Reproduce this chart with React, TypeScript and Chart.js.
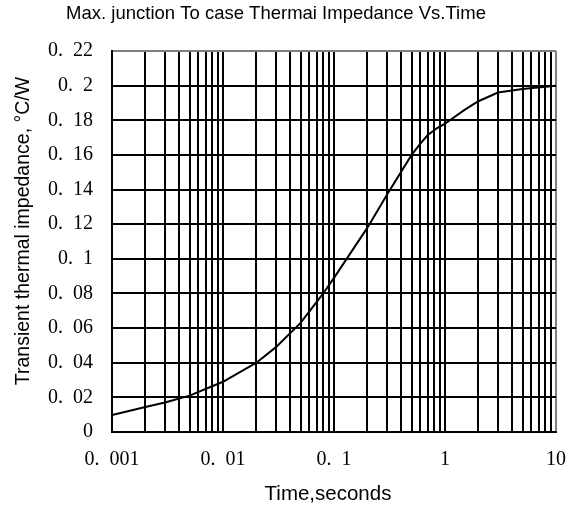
import React, { useEffect, useRef } from "react";
import { Chart, registerables } from "chart.js";

Chart.register(...registerables);

const TITLE = "Max. junction To case Thermai Impedance Vs.Time";
const X_TITLE = "Time,seconds";
const Y_TITLE = "Transient thermal impedance, °C/W";

// curve: time (s) vs transient thermal impedance (°C/W)
const times = [0.001, 0.002, 0.003, 0.005, 0.01, 0.02, 0.03, 0.05, 0.08, 0.1, 0.2, 0.3, 0.5, 0.6, 0.7, 0.85, 1, 1.5, 2, 3, 5, 10];
const impedance = [0.0098, 0.0144, 0.017, 0.021, 0.029, 0.040, 0.049, 0.063, 0.080, 0.089, 0.118, 0.137, 0.160, 0.1665, 0.1715, 0.1755, 0.178, 0.186, 0.191, 0.196, 0.198, 0.200];

// x axis: decades and gridline multipliers
const xDecades = [0.001, 0.01, 0.1, 1];
const xMultipliers = [1, 2, 3, 4, 5, 6, 7, 8, 9];
const xMax = 10;
const xTickValues = [0.001, 0.01, 0.1, 1, 10];
const xTickLabels = ["0.  001", "0.  01", "0.  1", "1", "10"];

// y axis
const yTickValues = [0, 0.02, 0.04, 0.06, 0.08, 0.1, 0.12, 0.14, 0.16, 0.18, 0.2, 0.22];
const yTickLabels = ["0", "0.  02", "0.  04", "0.  06", "0.  08", "0.  1", "0.  12", "0.  14", "0.  16", "0.  18", "0.  2", "0.  22"];
const yMax = 0.22;

const near = (a: number, b: number) => Math.abs(a - b) < 1e-9 * Math.max(1, Math.abs(b));

const titlesPlugin = {
  id: "customTitles",
  afterDraw(chart: any) {
    const ctx = chart.ctx as CanvasRenderingContext2D;
    ctx.save();
    ctx.fillStyle = "#000";
    ctx.textAlign = "center";
    ctx.textBaseline = "middle";
    ctx.font = '18.5px "Liberation Sans", Arial, sans-serif';
    ctx.fillText(TITLE, 276, 14);
    ctx.font = '20.5px "Liberation Sans", Arial, sans-serif';
    ctx.fillText(X_TITLE, 328, 494);
    ctx.font = '19.5px "Liberation Sans", Arial, sans-serif';
    ctx.translate(24, 231);
    ctx.rotate(-Math.PI / 2);
    ctx.fillText(Y_TITLE, 0, 0);
    ctx.restore();
  },
};

export default function App() {
  const ref = useRef<HTMLCanvasElement | null>(null);
  useEffect(() => {
    if (!ref.current) return;
    const gridValues: number[] = [];
    xDecades.forEach((d) => xMultipliers.forEach((m) => gridValues.push(parseFloat((d * m).toPrecision(6)))));
    gridValues.push(xMax);

    const chart = new Chart(ref.current, {
      type: "line",
      data: {
        datasets: [
          {
            data: times.map((t, i) => ({ x: t, y: impedance[i] })),
            borderColor: "#000000",
            borderWidth: 2,
            pointRadius: 0,
            tension: 0,
            fill: false,
          },
        ],
      },
      options: {
        animation: false,
        responsive: false,
        devicePixelRatio: 1,
        layout: { padding: { top: 51, right: 24, left: 0, bottom: 0 } },
        plugins: { legend: { display: false }, tooltip: { enabled: false }, title: { display: false } },
        scales: {
          x: {
            type: "logarithmic",
            min: 0.001,
            max: xMax,
            afterBuildTicks: (scale: any) => {
              scale.ticks = gridValues.map((v) => ({ value: v }));
            },
            afterFit: (scale: any) => {
              scale.height = 79;
            },
            ticks: {
              autoSkip: false,
              maxRotation: 0,
              padding: 16,
              color: "#000",
              font: { family: '"Liberation Serif", "Times New Roman", serif', size: 20 },
              callback: (value: any) => {
                const i = xTickValues.findIndex((v) => near(v, Number(value)));
                return i >= 0 ? xTickLabels[i] : "";
              },
            },
            grid: {
              drawTicks: false,
              lineWidth: 2,
              color: (ctx: any) => (ctx.tick && near(ctx.tick.value, xMax) ? "#808080" : "#000000"),
            },
            border: { display: true, color: "#000000", width: 2 },
          },
          y: {
            type: "linear",
            min: 0,
            max: yMax,
            afterBuildTicks: (scale: any) => {
              scale.ticks = yTickValues.map((v) => ({ value: v }));
            },
            afterFit: (scale: any) => {
              scale.width = 112;
            },
            ticks: {
              autoSkip: false,
              padding: 19,
              color: "#000",
              font: { family: '"Liberation Serif", "Times New Roman", serif', size: 20 },
              callback: (value: any) => {
                const i = yTickValues.findIndex((v) => near(v, Number(value)));
                return i >= 0 ? yTickLabels[i] : "";
              },
            },
            grid: {
              drawTicks: false,
              lineWidth: 2,
              color: (ctx: any) => (ctx.tick && near(ctx.tick.value, yMax) ? "#808080" : "#000000"),
            },
            border: { display: true, color: "#000000", width: 2 },
          },
        },
      },
      plugins: [titlesPlugin],
    });
    return () => chart.destroy();
  }, []);

  return (
    <div style={{ position: "fixed", left: 0, top: 0, width: 582, height: 511, background: "#fff" }}>
      <canvas ref={ref} width={582} height={511} style={{ display: "block", width: 582, height: 511 }} />
    </div>
  );
}
